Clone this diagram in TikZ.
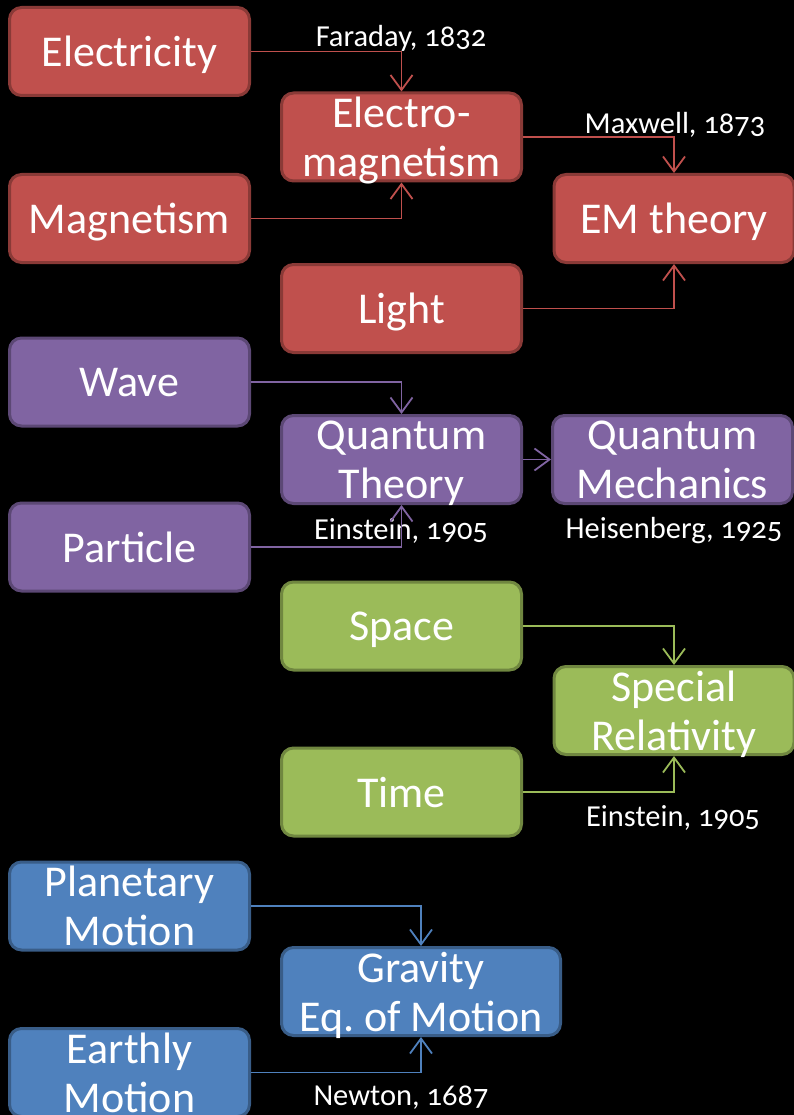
\documentclass[tikz,border=0pt]{standalone}
\usepackage{fontspec}
\setmainfont{Carlito}[Numbers=OldStyle]
\usetikzlibrary{arrows.meta}

\definecolor{emred}{HTML}{C0504D}
\definecolor{qpurple}{HTML}{8064A2}
\definecolor{srgreen}{HTML}{9BBB59}
\definecolor{gblue}{HTML}{4F81BD}

\tikzset{
  box/.style={rectangle, rounded corners=12pt, fill=#1, draw=#1!72!black,
    line width=3pt, minimum width=240pt, minimum height=88pt, inner sep=0pt,
    text depth=0pt, text=white, align=center, font=\fontsize{44}{49}\selectfont},
  link/.style={draw=#1, line width=1.8pt, -{Straight Barb[length=15pt,width=22pt]}},
  year/.style={text=white, font=\fontsize{30.5}{34}\selectfont, inner sep=0pt}
}

\begin{document}
\begin{tikzpicture}[x=1pt, y=-1pt]

% Background
\fill[black] (0,0) rectangle (794,1115);
\useasboundingbox (0,0) rectangle (794,1115);

% Labels
\node[year] (faraday) at (401,38) {Faraday, 1832};
\node[year] (maxwell) at (675,125) {Maxwell, 1873};
\node[year] (einstqt) at (401,531) {Einstein, 1905};
\node[year] (heisen) at (674,531) {Heisenberg, 1925};
\node[year] (einstsr) at (673,818) {Einstein, 1905};
\node[year] (newton) at (401,1098) {Newton, 1687};

% Electromagnetism
\node[box=emred] (elec) at (129.5,51.5) {Electricity};
\node[box=emred] (emag) at (401.5,137) {Electro-\\magnetism};
\node[box=emred] (magn) at (129.5,218.5) {Magnetism};
\node[box=emred] (emth) at (674,218.5) {EM theory};
\node[box=emred] (light) at (401.5,308.5) {Light};

% Quantum
\node[box=qpurple] (wave) at (129.5,382) {Wave};
\node[box=qpurple] (qth) at (401.5,459.5) {Quantum\\Theory};
\node[box=qpurple] (qmech) at (672.5,459.5) {Quantum\\Mechanics};
\node[box=qpurple] (part) at (129.5,547) {Particle};

% Relativity
\node[box=srgreen] (space) at (401.5,626) {Space};
\node[box=srgreen] (srel) at (674,710.5) {Special\\Relativity};
\node[box=srgreen] (time) at (401.5,792) {Time};

% Gravity
\node[box=gblue] (plan) at (129.5,906) {Planetary\\Motion};
\node[box=gblue, minimum width=279pt] (grav) at (421,991.5) {Gravity\\Eq.\ of Motion};
\node[box=gblue] (earth) at (129.5,1072.5) {Earthly\\Motion};

% Connectors
\draw[link=emred] (elec.east) -| (emag.north);
\draw[link=emred] (magn.east) -| (emag.south);
\draw[link=emred] (emag.east) -| (emth.north);
\draw[link=emred] (light.east) -| (emth.south);

\draw[link=qpurple] (wave.east) -| (qth.north);
\draw[link=qpurple] (part.east) -| (qth.south);
\draw[link=qpurple] (qth.east) -- (qmech.west);

\draw[link=srgreen] (space.east) -| (srel.north);
\draw[link=srgreen] (time.east) -| (srel.south);

\draw[link=gblue] (plan.east) -| (grav.north);
\draw[link=gblue] (earth.east) -| (grav.south);

\end{tikzpicture}
\end{document}
